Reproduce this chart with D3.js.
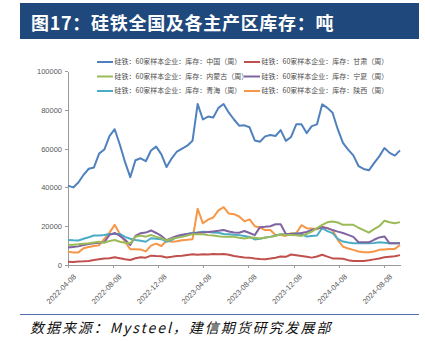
<!DOCTYPE html>
<html>
<head>
<meta charset="utf-8">
<script src="https://cdn.jsdelivr.net/npm/d3@7"></script>
<style>
  body { margin: 0; background: #fff; }
  svg { display: block; font-family: "Noto Sans CJK SC", "Noto Sans", sans-serif; }
  .axis text { fill: #595959; font-size: 7.5px; font-family: "Liberation Sans", "DejaVu Sans", sans-serif; }
  .axis path, .axis line { stroke: #9a9a9a; shape-rendering: crispEdges; }
  .series { fill: none; stroke-width: 2; stroke-linejoin: round; }
  .legend text { fill: #4d4d4d; font-size: 7px; }
</style>
</head>
<body>
<div id="chart"></div>
<script>
// biweekly observations starting 2022-04-08
const startDate = "2022-04-08";
const stepDays = 14;

const seriesNames = [
  "硅铁：60家样本企业：库存：中国（周）",
  "硅铁：60家样本企业：库存：甘肃（周）",
  "硅铁：60家样本企业：库存：内蒙古（周）",
  "硅铁：60家样本企业：库存：宁夏（周）",
  "硅铁：60家样本企业：库存：青海（周）",
  "硅铁：60家样本企业：库存：陕西（周）"
];

const chinaStock = [
  40900, 40000, 42500, 46500, 49600, 50300, 57400, 59500, 66400, 70000,
  62000, 53000, 45300, 54000, 55000, 53500, 59000, 61000, 57000, 50500,
  55000, 58500, 60000, 61500, 64000, 83000, 75000, 76500, 76000, 81000,
  83000, 78500, 75000, 71800, 72000, 71000, 64200, 63500, 66300, 67000,
  66500, 69500, 64000, 66000, 72500, 72500, 68000, 71600, 72500, 82800,
  81000, 78500, 70000, 63000, 59500, 56500, 51000, 49500, 48800, 52500,
  56000, 60300, 57800, 56400, 59100
];

const gansuStock = [
  1700, 1600, 1800, 1900, 2100, 2600, 3000, 3400, 3500, 4000,
  3500, 3000, 2600, 3500, 4000, 3800, 4800, 4600, 4500, 3900,
  4200, 4600, 4800, 5200, 5600, 5300, 5600, 5400, 5700, 5600,
  5700, 5300, 4600, 4200, 3900, 3800, 3400, 3100, 3000, 3300,
  3700, 4400, 4200, 5400, 5000, 4600, 4200, 3800, 4400, 5300,
  4300, 3400, 3400, 3200, 2500, 2100, 2000, 2100, 2400, 2900,
  3400, 4000, 4300, 4500, 5100
];

const neimengguStock = [
  10300, 10500, 10700, 11000, 11200, 11600, 12000, 11500, 12400, 12900,
  12000, 11500, 11200, 14600, 15200, 14600, 15500, 14500, 13800, 12600,
  13500, 14000, 14500, 15200, 15900, 15900, 15900, 15400, 15200, 14800,
  14500, 14500, 14500, 14000, 13700, 14200, 14000, 13700, 14000, 14500,
  14900, 15900, 15500, 15500, 15300, 15000, 16000, 17200, 19000, 20700,
  22000, 22400, 21900, 20700, 20700, 20700, 19200, 18000, 16700, 18500,
  20000, 22800, 22000, 21500, 22100
];

const ningxiaStock = [
  9000, 9300, 9600, 10300, 10800, 11200, 11500, 11800, 15500, 16500,
  15000, 13000, 10300, 15000, 16400, 16700, 17800, 16500, 15000, 12800,
  14000, 15000, 15600, 16000, 16300, 16600, 16800, 17000, 17300, 17600,
  18000, 17300, 16800, 16600, 17500, 16500, 15400, 19500, 19700, 20000,
  21000, 21000, 16000, 16000, 16000, 16500, 17000, 18100, 18800, 19500,
  19000, 18000, 17200, 16500, 15500, 14500, 11700, 11700, 11700, 13000,
  14200, 14700, 11200, 11200, 11200
];

const qinghaiStock = [
  12900, 12700, 12600, 13500, 14300, 15200, 15200, 15500, 16000, 16000,
  16000, 14500, 13500, 12900, 12500, 12000, 13800, 13500, 13300, 12000,
  13000, 14500, 15400, 16000, 16600, 16800, 17100, 17000, 16800, 16600,
  16000, 15900, 15600, 15400, 15000, 14500, 13200, 13500, 14200, 14500,
  15200, 15900, 15800, 16000, 16400, 16000, 14700, 15000, 15200, 19000,
  17500, 16400, 13500, 12100, 11600, 11200, 11200, 11200, 11200, 11400,
  11700, 11500, 11200, 11200, 11200
];

const shaanxiStock = [
  6900, 6400, 6500, 8600, 9300, 9800, 10200, 13500, 16700, 20700,
  16000, 12000, 8100, 8100, 8000, 7000, 10000, 11000, 9800, 12500,
  12000, 12200, 12800, 13000, 13300, 29000, 21500, 23400, 24500, 28200,
  29800, 26500, 26200, 25000, 22500, 23500, 20000, 19300, 18000, 18000,
  15500, 15500, 15000, 16400, 16400, 20500, 19000, 18800, 18400, 19800,
  19000, 18000, 13000, 9500, 8500, 7800, 7000, 6600, 6600, 7000,
  7800, 8000, 8200, 8300, 10300
];

const xTickLabels = ["2022-04-08", "2022-08-08", "2022-12-08", "2023-04-08",
                     "2023-08-08", "2023-12-08", "2024-04-08", "2024-08-08"];
const yTickValues = [0, 20000, 40000, 60000, 80000, 100000];

const titleText = "图17：硅铁全国及各主产区库存：吨";
const sourceText = "数据来源：Mysteel，建信期货研究发展部";

class StockChart {

  constructor(_config) {
    this.config = {
      parentElement: _config.parentElement,
      containerWidth: 425,
      containerHeight: 341,
      colors: ["#4f81bd", "#c0504d", "#9bbb59", "#8064a2", "#4bacc6", "#f79646"]
    };
    this.config.margin = { top: 71, bottom: 76, right: 25, left: 68 };
    this.initVis();
  }

  initVis() {
    let vis = this;
    const cfg = vis.config;
    cfg.width = cfg.containerWidth - cfg.margin.left - cfg.margin.right;
    cfg.height = cfg.containerHeight - cfg.margin.top - cfg.margin.bottom;

    vis.svg = d3.select(cfg.parentElement).append("svg")
        .attr("width", cfg.containerWidth)
        .attr("height", cfg.containerHeight);

    // Title banner
    vis.svg.append("rect")
        .attr("x", 20).attr("y", 3)
        .attr("width", 399).attr("height", 36)
        .attr("fill", "#1f497d");
    vis.svg.append("text")
        .attr("x", 31).attr("y", 30)
        .attr("fill", "#fff")
        .attr("font-size", 18)
        .attr("font-weight", "bold")
        .attr("letter-spacing", 0.7)
        .text(titleText);

    // Source line
    vis.svg.append("line")
        .attr("x1", 20).attr("x2", 419)
        .attr("y1", 314.5).attr("y2", 314.5)
        .attr("stroke", "#4f6fae")
        .attr("stroke-width", 1);
    vis.svg.append("text")
        .attr("x", 30).attr("y", 333)
        .attr("fill", "#111")
        .attr("font-size", 14)
        .attr("font-style", "italic")
        .attr("letter-spacing", 1.95)
        .text(sourceText);

    vis.chart = vis.svg.append("g")
        .attr("transform", `translate(${cfg.margin.left},${cfg.margin.top})`);

    vis.xScale = d3.scaleTime().range([0, cfg.width]);
    vis.yScale = d3.scaleLinear().domain([0, 100000]).range([cfg.height, 0]);

    vis.xAxisGroup = vis.chart.append("g")
        .attr("class", "axis axis--x")
        .attr("transform", `translate(0,${cfg.height})`);
    vis.yAxisGroup = vis.chart.append("g")
        .attr("class", "axis axis--y");

    vis.legend = vis.svg.append("g").attr("class", "legend");
  }

  wrangleData() {
    let vis = this;
    const parse = d3.timeParse("%Y-%m-%d");
    const start = parse(startDate);
    const all = [chinaStock, gansuStock, neimengguStock, ningxiaStock, qinghaiStock, shaanxiStock];

    vis.dates = chinaStock.map((d, i) => d3.timeDay.offset(start, i * stepDays));
    vis.series = all.map((values, k) => ({
      name: seriesNames[k],
      color: vis.config.colors[k],
      values: values.map((v, i) => ({ date: vis.dates[i], value: v }))
    }));
    vis.xTicks = xTickLabels.map(parse);

    vis.xScale.domain(d3.extent(vis.dates));
    vis.updateVis();
  }

  updateVis() {
    let vis = this;

    vis.xAxisGroup.call(d3.axisBottom(vis.xScale)
        .tickValues(vis.xTicks)
        .tickFormat(d3.timeFormat("%Y-%m-%d"))
        .tickSize(3)
        .tickSizeOuter(0))
      .selectAll("text")
        .attr("text-anchor", "end")
        .attr("dx", "0")
        .attr("dy", "0")
        .attr("transform", "translate(4,8) rotate(-45)");

    vis.yAxisGroup.call(d3.axisLeft(vis.yScale)
        .tickValues(yTickValues)
        .tickFormat(d3.format("d"))
        .tickSize(3)
        .tickSizeOuter(0))
      .selectAll("text")
        .attr("x", -6);

    const line = d3.line()
        .x(d => vis.xScale(d.date))
        .y(d => vis.yScale(d.value));

    // draw so that the national line sits on top, like the source
    vis.chart.selectAll(".series")
      .data(vis.series.slice().reverse())
      .join("path")
        .attr("class", "series")
        .attr("stroke", d => d.color)
        .attr("d", d => line(d.values));

    // Legend: 2 columns x 3 rows
    const cols = [97, 244];
    const rows = [62, 76.5, 91];
    const item = vis.legend.selectAll("g")
      .data(vis.series)
      .join("g")
        .attr("transform", (d, i) => `translate(${cols[i % 2]},${rows[Math.floor(i / 2)]})`);
    item.append("line")
        .attr("x1", 0).attr("x2", 16)
        .attr("stroke", d => d.color)
        .attr("stroke-width", 2);
    item.append("text")
        .attr("x", 17.5)
        .attr("dy", "0.35em")
        .text(d => d.name);
  }
}

const chart = new StockChart({ parentElement: "#chart" });
chart.wrangleData();
</script>
</body>
</html>
